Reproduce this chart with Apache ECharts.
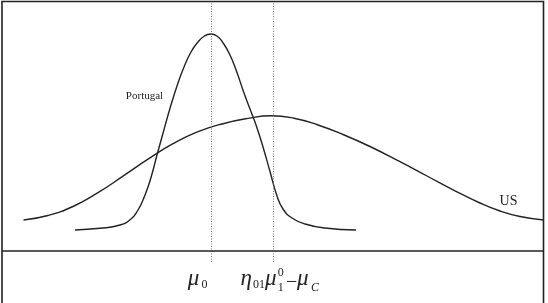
<!DOCTYPE html>
<html>
<head>
<meta charset="utf-8">
<script src="https://cdn.jsdelivr.net/npm/echarts@6/dist/echarts.min.js"></script>
<style>
  html, body { margin: 0; padding: 0; background: #fff; }
  #chart { width: 548px; height: 303px; }
</style>
</head>
<body>
<div id="chart"></div>
<script>
// curve points [x, height above baseline]
const portugal = [
  [75, 21], [100, 22.7], [120, 26], [131, 32], [138, 41], [143, 51], [148, 64], [152, 77],
  [157, 96], [163.5, 119.5], [170, 142.7], [177, 165], [184, 184], [191, 199], [198, 209],
  [204.5, 215], [210.8, 217], [217, 215], [223.5, 207.5], [230, 196], [236.7, 179.3],
  [243.3, 160], [250, 142], [256.7, 124], [263.3, 103], [270, 79.5], [276.7, 56], [283, 42],
  [292, 33], [305, 27], [325, 23], [356, 21]
];
const us = [
  [23.5, 31], [48, 35.5], [73, 44.5], [98, 58.3], [123, 74.8], [148, 91.8], [173, 107.3],
  [198, 119.3], [223, 127.3], [248, 132.6], [271, 135.3], [294, 132.8], [318, 126],
  [343, 116.5], [371, 104], [399, 89.8], [427, 75], [455, 60.2], [480, 48],
  [500, 40], [520, 34.5], [543.8, 31]
];
const refLines = [210.8, 273.1];   // mu_0 and eta01 mu1^0 - mu_C
const serif = "'Liberation Serif', 'DejaVu Serif', serif";

const chart = echarts.init(document.getElementById('chart'));

const lineStyle = { color: '#222', width: 1.4 };

chart.setOption({
  animation: false,
  grid: { left: 2, right: 4.5, top: 2, bottom: 41 },
  xAxis: { type: 'value', min: 2, max: 543.5, show: false },
  yAxis: { type: 'value', min: -11, max: 249, show: false },
  series: [
    {
      name: 'Portugal',
      type: 'line',
      data: portugal,
      smooth: 0.5,
      showSymbol: false,
      lineStyle: lineStyle,
      markLine: {
        silent: true,
        symbol: 'none',
        label: { show: false },
        lineStyle: { color: '#777', width: 1, type: [1, 1.5] },
        data: refLines.map(v => ({ xAxis: v }))
      }
    },
    {
      name: 'US',
      type: 'line',
      data: us,
      smooth: 0.5,
      showSymbol: false,
      lineStyle: lineStyle,
      markLine: {
        silent: true,
        symbol: 'none',
        label: { show: false },
        lineStyle: { color: '#222', width: 1.6, type: 'solid' },
        data: [{ yAxis: 0 }]
      }
    }
  ]
});

// annotations placed relative to the axes
const px = (x, y) => chart.convertToPixel({ gridIndex: 0 }, [x, y]);
const m0 = px(refLines[0], 0)[0];
const m1 = px(refLines[1], 0)[0];

function txt(x, y, s, size, italic, align) {
  return {
    type: 'text',
    x: x, y: y,
    style: {
      text: s,
      fill: '#222',
      font: (italic ? 'italic ' : '') + size + 'px ' + serif,
      align: align || 'left',
      verticalAlign: 'middle'
    }
  };
}

const pLab = px(144.5, 251 - 96.5);
const uLab = px(508.5, 251 - 201.7);

chart.setOption({
  graphic: [
    {
      type: 'rect',
      shape: { x: 2, y: 1.5, width: 541.5, height: 320 },
      style: { fill: 'none', stroke: '#222', lineWidth: 1.6 },
      silent: true
    },
    txt(pLab[0], pLab[1], 'Portugal', 11, false, 'center'),
    txt(uLab[0], uLab[1], 'US', 14, false, 'center'),
    // mu_0
    txt(m0 - 23, 279, 'μ', 23, true),
    txt(m0 - 9.3, 284.5, '0', 12, false),
    // eta_01 mu_1^0 - mu_C
    txt(m1 - 32.5, 279, 'η', 23, true),
    txt(m1 - 20, 285, '01', 12, false),
    txt(m1 - 8, 279, 'μ', 23, true),
    txt(m1 + 4.6, 287.5, '1', 12, false),
    txt(m1 + 4.6, 273, '0', 12, false),
    txt(m1 + 13, 283, '−', 20, false),
    txt(m1 + 24, 279, 'μ', 23, true),
    txt(m1 + 38, 287.5, 'C', 12, true)
  ]
});
</script>
</body>
</html>
